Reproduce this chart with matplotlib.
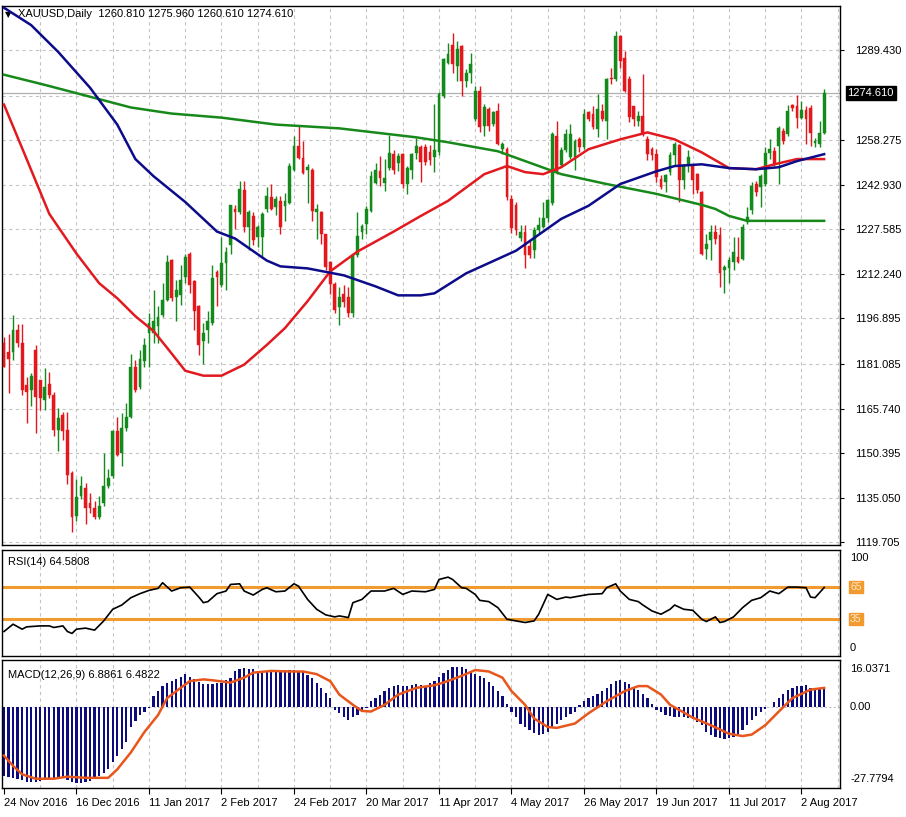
import numpy as np
import matplotlib.pyplot as plt
from matplotlib.transforms import blended_transform_factory

# ---- data (XAUUSD daily, 182 bars) ----
x_labels = ["24 Nov 2016", "16 Dec 2016", "11 Jan 2017", "2 Feb 2017", "24 Feb 2017",
            "20 Mar 2017", "11 Apr 2017", "4 May 2017", "26 May 2017", "19 Jun 2017",
            "11 Jul 2017", "2 Aug 2017"]

opens = [1188.2, 1185.3, 1185.3, 1192.9, 1188.2, 1173.9, 1172.2, 1185.9, 1175.6, 1168.7,
         1174.4, 1170.5, 1158.5, 1163.6, 1158.5, 1143.6, 1128.8, 1135.6, 1138.5, 1133.3,
         1131.6, 1128.2, 1133.3, 1139.0, 1142.5, 1157.9, 1150.5, 1159.0, 1163.0, 1180.2,
         1173.3, 1182.0, 1191.8, 1191.8, 1194.1, 1198.1, 1203.3, 1217.0, 1204.4, 1205.0,
         1211.3, 1219.2, 1209.9, 1201.0, 1189.0, 1193.0, 1195.3, 1213.0, 1208.4, 1215.8,
         1222.1, 1234.7, 1233.5, 1241.0, 1228.4, 1232.0, 1225.0, 1225.0, 1234.7, 1238.7,
         1235.2, 1237.4, 1235.7, 1236.8, 1248.2, 1256.2, 1252.2, 1248.0, 1248.2, 1233.4,
         1233.4, 1226.0, 1216.3, 1208.8, 1200.8, 1205.4, 1204.3, 1198.6, 1218.6, 1226.5,
         1229.4, 1234.0, 1243.7, 1247.7, 1243.7, 1248.8, 1253.4, 1250.5, 1253.4, 1243.1,
         1248.2, 1254.0, 1255.9, 1255.9, 1254.2, 1252.5, 1254.2, 1273.6, 1285.0, 1291.3,
         1283.9, 1290.7, 1278.8, 1281.6, 1265.6, 1275.3, 1263.3, 1269.1, 1263.9, 1268.5,
         1255.3, 1255.3, 1238.2, 1235.9, 1224.5, 1226.8, 1221.7, 1220.5, 1227.4, 1228.5,
         1231.4, 1236.5, 1259.9, 1249.6, 1254.8, 1252.5, 1252.5, 1258.8, 1255.9, 1267.9,
         1267.3, 1262.2, 1268.5, 1265.1, 1279.9, 1279.3, 1294.2, 1286.8, 1279.3, 1270.2,
         1265.1, 1266.8, 1258.8, 1255.3, 1253.6, 1245.1, 1243.9, 1247.4, 1253.1, 1256.5,
         1244.5, 1249.6, 1249.6, 1246.5, 1240.3, 1220.9, 1223.8, 1226.6, 1225.5, 1213.5,
         1214.1, 1216.4, 1218.1, 1217.5, 1230.1, 1234.1, 1243.2, 1242.1, 1243.2, 1254.0,
         1254.6, 1256.3, 1261.5, 1260.3, 1270.6, 1270.0, 1266.0, 1268.9, 1269.5, 1257.5,
         1256.9, 1260.81]
highs = [1190.4, 1191.6, 1197.9, 1195.0, 1195.0, 1176.7, 1177.9, 1187.6, 1175.6, 1179.6,
         1178.4, 1171.6, 1165.9, 1164.7, 1164.7, 1144.2, 1141.3, 1142.5, 1140.2, 1136.8,
         1133.9, 1135.6, 1150.5, 1144.8, 1158.5, 1163.0, 1164.2, 1167.6, 1184.7, 1182.4,
         1186.0, 1190.0, 1198.7, 1206.7, 1201.0, 1209.0, 1218.7, 1217.5, 1210.1, 1215.3,
         1219.2, 1219.8, 1210.1, 1201.5, 1195.3, 1199.3, 1215.3, 1213.5, 1225.0, 1221.5,
         1235.8, 1235.8, 1244.4, 1244.4, 1234.1, 1233.5, 1229.0, 1233.5, 1242.1, 1243.2,
         1239.2, 1239.1, 1240.2, 1250.5, 1259.7, 1263.1, 1258.0, 1250.0, 1248.8, 1236.3,
         1234.0, 1226.0, 1216.8, 1209.4, 1207.7, 1208.3, 1207.7, 1219.1, 1233.4, 1229.4,
         1235.7, 1247.7, 1250.5, 1252.8, 1251.7, 1260.2, 1255.1, 1254.0, 1254.0, 1249.4,
         1254.0, 1259.1, 1256.5, 1257.1, 1256.5, 1270.8, 1274.8, 1286.8, 1291.9, 1295.3,
         1292.5, 1291.3, 1282.8, 1288.5, 1277.0, 1277.0, 1270.8, 1269.6, 1268.5, 1271.3,
         1257.6, 1255.9, 1239.3, 1237.1, 1229.1, 1229.1, 1223.9, 1228.5, 1231.9, 1237.1,
         1238.2, 1261.1, 1265.1, 1255.9, 1262.2, 1263.9, 1258.8, 1259.3, 1269.1, 1268.5,
         1270.2, 1274.2, 1270.8, 1279.9, 1283.3, 1295.9, 1294.7, 1289.0, 1280.5, 1270.2,
         1268.5, 1281.0, 1259.9, 1255.9, 1255.3, 1246.2, 1246.8, 1254.2, 1257.6, 1257.1,
         1250.2, 1254.8, 1250.2, 1247.0, 1240.9, 1226.1, 1228.9, 1228.9, 1228.4, 1215.2,
         1218.1, 1224.9, 1224.9, 1229.5, 1235.2, 1243.8, 1244.3, 1246.6, 1255.8, 1258.6,
         1255.8, 1263.2, 1262.6, 1270.6, 1270.8, 1274.0, 1271.8, 1270.0, 1270.6, 1259.2,
         1264.9, 1275.96]
lows = [1180.2, 1171.0, 1182.4, 1187.0, 1170.5, 1160.7, 1166.5, 1157.3, 1165.3, 1165.3,
        1169.3, 1156.2, 1151.0, 1155.0, 1139.6, 1123.1, 1127.1, 1134.5, 1125.9, 1129.9,
        1127.6, 1127.6, 1132.2, 1138.5, 1141.9, 1149.3, 1145.9, 1157.9, 1162.5, 1171.6,
        1172.5, 1180.0, 1180.0, 1188.4, 1188.4, 1197.5, 1202.7, 1202.7, 1195.8, 1201.5,
        1209.0, 1205.5, 1193.0, 1184.4, 1181.0, 1188.4, 1194.7, 1201.0, 1207.8, 1206.7,
        1219.2, 1227.8, 1233.0, 1226.7, 1220.4, 1222.1, 1221.5, 1218.1, 1233.5, 1234.1,
        1232.4, 1226.0, 1230.5, 1236.3, 1247.7, 1251.7, 1246.5, 1236.8, 1230.5, 1224.3,
        1222.5, 1213.4, 1205.4, 1198.6, 1194.6, 1200.8, 1197.4, 1197.4, 1218.0, 1224.3,
        1226.0, 1233.4, 1243.1, 1242.5, 1240.8, 1248.2, 1246.5, 1247.7, 1242.0, 1239.7,
        1244.8, 1251.7, 1243.9, 1249.6, 1249.6, 1247.4, 1253.1, 1273.0, 1284.5, 1281.6,
        1278.8, 1273.6, 1276.5, 1278.2, 1265.1, 1261.1, 1259.9, 1261.6, 1263.3, 1256.5,
        1253.6, 1237.6, 1226.2, 1225.7, 1223.4, 1214.2, 1217.7, 1217.7, 1226.2, 1227.9,
        1230.2, 1235.9, 1246.8, 1249.1, 1254.2, 1251.9, 1247.9, 1254.2, 1255.3, 1265.1,
        1262.2, 1259.3, 1265.1, 1258.8, 1277.6, 1278.8, 1283.3, 1274.8, 1264.5, 1263.3,
        1263.3, 1259.9, 1251.4, 1251.4, 1243.9, 1241.6, 1240.5, 1246.2, 1249.6, 1237.1,
        1241.6, 1247.4, 1239.9, 1240.0, 1218.6, 1217.5, 1216.9, 1222.6, 1207.8, 1205.5,
        1208.9, 1213.5, 1215.8, 1216.9, 1229.5, 1232.9, 1239.2, 1235.2, 1242.6, 1251.8,
        1249.5, 1243.2, 1256.9, 1259.8, 1268.3, 1262.6, 1265.5, 1256.9, 1256.3, 1255.8,
        1255.8, 1260.61]
closes = [1180.2, 1183.0, 1192.7, 1188.2, 1172.2, 1171.6, 1177.0, 1169.9, 1169.3, 1173.3,
          1170.5, 1158.5, 1162.5, 1157.9, 1143.0, 1128.2, 1135.1, 1139.0, 1131.6, 1131.6,
          1128.2, 1132.2, 1139.0, 1141.9, 1157.9, 1149.9, 1159.0, 1163.0, 1180.2, 1172.2,
          1183.0, 1187.8, 1195.3, 1195.8, 1197.5, 1203.3, 1216.4, 1203.8, 1206.7, 1210.1,
          1218.1, 1208.4, 1199.3, 1187.8, 1191.8, 1195.8, 1210.7, 1211.3, 1215.8, 1219.8,
          1235.8, 1233.5, 1241.5, 1228.4, 1233.5, 1223.8, 1228.4, 1233.0, 1239.2, 1234.7,
          1238.1, 1228.3, 1237.4, 1249.4, 1256.2, 1252.2, 1247.1, 1249.0, 1234.0, 1234.5,
          1226.0, 1214.5, 1208.8, 1199.7, 1204.3, 1202.6, 1198.6, 1218.6, 1225.4, 1228.8,
          1234.5, 1246.0, 1248.2, 1245.4, 1245.4, 1254.0, 1248.2, 1252.8, 1243.1, 1248.8,
          1253.4, 1256.2, 1250.8, 1250.8, 1251.4, 1254.8, 1274.2, 1286.2, 1287.9, 1284.5,
          1289.6, 1278.8, 1281.6, 1284.5, 1275.3, 1262.8, 1269.6, 1263.3, 1268.1, 1257.1,
          1257.1, 1238.8, 1227.9, 1227.4, 1226.8, 1218.8, 1218.8, 1227.4, 1229.1, 1231.4,
          1237.6, 1260.5, 1247.4, 1254.8, 1260.5, 1260.5, 1258.2, 1255.9, 1267.3, 1265.6,
          1262.8, 1269.1, 1265.6, 1279.3, 1279.3, 1294.2, 1285.6, 1275.3, 1266.2, 1265.6,
          1266.8, 1260.5, 1253.6, 1253.1, 1245.6, 1242.2, 1246.2, 1253.1, 1257.1, 1244.5,
          1249.6, 1252.5, 1244.5, 1241.0, 1219.2, 1222.6, 1226.6, 1224.4, 1212.4, 1214.6,
          1216.9, 1219.8, 1216.4, 1228.4, 1231.8, 1242.6, 1240.3, 1246.1, 1254.0, 1255.2,
          1250.1, 1262.6, 1258.0, 1268.3, 1269.5, 1266.0, 1268.9, 1265.5, 1260.9, 1258.0,
          1260.9, 1274.61]

# moving averages (bar index, value)
ma_green_idx = [0, 9, 19, 28, 37, 48, 60, 74, 91, 98, 109, 123, 133, 144, 154, 157, 160, 164, 181]
ma_green_val = [1280.9, 1277.4, 1273.3, 1269.6, 1267.5, 1266.1, 1263.7, 1262.4, 1259.3, 1257.6,
                1254.5, 1246.6, 1243.2, 1239.8, 1236.0, 1234.6, 1232.2, 1230.5, 1230.5]
ma_blue_idx = [0, 6, 12, 19, 25, 29, 33, 40, 47, 51, 58, 61, 67, 75, 82, 87, 92, 95, 102, 113,
               123, 129, 136, 144, 148, 154, 160, 166, 171, 175, 181]
ma_blue_val = [1304.0, 1298.0, 1288.7, 1276.4, 1263.7, 1251.8, 1245.9, 1237.0, 1226.8, 1224.4,
               1216.8, 1214.8, 1214.1, 1211.7, 1207.9, 1204.8, 1204.8, 1205.5, 1212.4, 1220.2,
               1231.2, 1235.7, 1243.2, 1247.6, 1249.4, 1250.0, 1248.7, 1248.3, 1249.0, 1251.1,
               1253.5]
ma_red_idx = [0, 5, 10, 16, 21, 25, 29, 33, 36, 40, 44, 48, 53, 58, 62, 67, 72, 78, 86, 92,
              98, 106, 111, 115, 119, 123, 129, 136, 142, 148, 154, 160, 166, 170, 175, 181]
ma_red_val = [1270.6, 1251.8, 1232.9, 1219.2, 1209.0, 1203.8, 1197.6, 1192.5, 1186.7, 1178.8,
              1177.1, 1177.1, 1180.9, 1187.7, 1193.5, 1202.8, 1213.1, 1219.9, 1226.8, 1232.2,
              1237.4, 1246.6, 1249.4, 1247.3, 1246.6, 1249.0, 1255.2, 1258.6, 1261.0, 1258.6,
              1254.1, 1248.7, 1248.3, 1250.0, 1251.8, 1251.8]

rsi_idx = [0, 2, 4, 5, 8, 10, 11, 13, 14, 15, 16, 18, 20, 22, 24, 26, 28, 30, 32, 34, 35, 37,
           39, 41, 43, 44, 45, 47, 49, 50, 52, 53, 55, 57, 58, 60, 62, 64, 65, 67, 69, 71, 73,
           74, 76, 77, 79, 81, 84, 86, 88, 90, 93, 95, 96, 98, 99, 101, 102, 104, 105, 107, 109,
           111, 113, 115, 117, 118, 120, 122, 124, 125, 127, 129, 132, 133, 135, 136, 138, 140,
           141, 143, 145, 147, 148, 150, 152, 154, 155, 157, 158, 159, 161, 163, 165, 167, 169,
           171, 173, 175, 177, 178, 179, 181]
rsi_val = [23.1, 30.0, 25.3, 27.5, 28.4, 28.4, 26.9, 28.4, 23.1, 21.3, 25.3, 26.3, 24.4, 33.1,
           44.1, 48.1, 55.0, 58.8, 61.9, 63.8, 69.1, 61.3, 64.4, 65.0, 55.6, 50.3, 51.3, 58.8,
           61.3, 67.5, 68.1, 61.3, 57.5, 62.8, 64.4, 60.6, 61.3, 68.1, 65.9, 53.4, 44.1, 38.8,
           36.9, 37.8, 36.3, 50.3, 53.4, 61.3, 61.3, 63.8, 58.1, 61.3, 60.6, 62.8, 72.2, 74.4,
           72.2, 64.4, 63.8, 58.1, 52.5, 51.3, 45.6, 34.7, 33.1, 31.6, 33.1, 39.4, 58.1, 53.4,
           55.6, 55.0, 56.6, 58.1, 58.8, 64.4, 68.1, 61.3, 53.4, 51.3, 48.1, 42.5, 39.4, 44.1,
           48.1, 44.1, 43.1, 34.7, 32.5, 36.9, 31.6, 32.5, 36.9, 45.6, 52.5, 55.0, 61.3, 58.8,
           65.0, 65.0, 64.4, 55.6, 55.0, 64.58]

macd_hist = [-23.7, -24.0, -24.3, -24.7, -25.1, -25.8, -25.8, -25.8, -25.5, -25.1,
             -24.7, -24.3, -24.3, -24.3, -25.0, -25.8, -25.9, -26.0, -25.7, -25.4,
             -24.5, -23.7, -22.5, -21.4, -19.0, -16.7, -14.4, -12.1, -6.9, -4.8,
             -2.8, -1.6, -0.5, 3.6, 5.3, 7.1, 8.0, 8.8, 9.5, 10.2,
             11.2, 10.3, 9.4, 8.5, 7.7, 7.7, 7.7, 8.0, 8.3, 9.1,
             10.0, 12.3, 12.8, 13.3, 13.1, 12.9, 12.3, 11.7, 12.3, 12.3,
             12.3, 12.4, 12.6, 12.6, 12.6, 12.3, 12.1, 11.0, 10.0, 8.2,
             6.5, 4.7, 3.0, -1.0, -2.2, -3.4, -4.5, -3.6, -2.8, -1.6,
             -0.5, 1.9, 3.0, 4.2, 5.3, 6.5, 7.0, 7.4, 7.2, 7.1,
             7.4, 7.7, 7.4, 7.1, 8.0, 8.8, 10.2, 11.7, 12.6, 13.5,
             13.6, 13.7, 12.9, 12.0, 11.2, 10.6, 10.0, 8.5, 7.1, 5.3,
             3.6, 1.0, -1.6, -3.6, -5.7, -6.9, -8.0, -8.9, -9.8, -9.2,
             -8.6, -7.2, -5.7, -4.5, -3.4, -2.5, -1.6, 0.7, 1.9, 3.0,
             3.7, 4.4, 5.5, 6.5, 7.7, 8.8, 9.1, 8.4, 7.7, 6.8,
             5.9, 4.5, 3.0, 1.0, -1.0, -1.9, -2.8, -3.1, -3.4, -3.4,
             -3.4, -3.7, -4.0, -5.2, -6.3, -8.6, -9.5, -10.3, -10.6, -10.9,
             -10.6, -10.3, -9.2, -8.0, -6.3, -4.5, -3.0, -1.6, -0.8, 0.1,
             1.6, 3.0, 4.5, 5.9, 6.5, 7.1, 7.3, 7.4, 6.5, 6.5,
             6.5, 6.8861]
signal_idx = [0, 2, 4, 7, 11, 14, 18, 23, 25, 28, 31, 34, 36, 39, 41, 44, 46, 50, 53, 55, 59,
              63, 66, 69, 72, 74, 77, 79, 81, 84, 87, 91, 95, 97, 101, 104, 107, 110, 112, 115,
              117, 120, 122, 126, 129, 133, 137, 140, 142, 145, 147, 150, 152, 156, 160, 163,
              165, 168, 171, 174, 178, 181]
signal_val = [-16.7, -20.2, -23.1, -24.6, -24.6, -23.9, -24.3, -24.3, -21.4, -15.6, -8.6, -2.8,
              3.0, 6.5, 8.8, 9.4, 9.1, 8.3, 10.0, 11.7, 12.3, 12.1, 12.1, 11.2, 8.8, 4.2, 0.7,
              -1.4, -1.6, 0.7, 4.2, 6.5, 7.4, 8.3, 10.6, 12.6, 12.1, 10.0, 5.4, 0.7, -4.0, -6.9,
              -7.2, -5.7, -2.2, 1.9, 5.4, 7.1, 7.1, 4.2, 0.7, -1.9, -3.7, -6.3, -9.2, -10.0,
              -9.5, -6.3, -1.6, 3.0, 5.9, 6.4822]

price_ticks = [1289.430, 1258.275, 1242.930, 1227.585, 1212.240, 1196.895, 1181.085,
               1165.740, 1150.395, 1135.050, 1119.705]

# ---- figure ----
plt.rcParams['font.family'] = ['Liberation Sans', 'DejaVu Sans']
fig = plt.figure(figsize=(9.06, 8.17), dpi=100)
W, H = 906.0, 817.0

def box(x0, y0, x1, y1):
    return [x0 / W, 1 - y1 / H, (x1 - x0) / W, (y1 - y0) / H]

ax = fig.add_axes(box(2, 6, 840, 545))
ax_rsi = fig.add_axes(box(2, 550, 840, 656))
ax_macd = fig.add_axes(box(2, 660, 840, 788))

n = len(closes)
x = np.arange(n)
o = np.array(opens); h = np.array(highs); l = np.array(lows); c = np.array(closes)
bull = c >= o
col = np.where(bull, '#138a1b', '#e3171c')

grid_kw = dict(color='#c4c4c4', lw=0.8, ls=(0, (3, 3)), zorder=0)
xmin, xmax = -0.44, 184.5
for a in (ax, ax_rsi, ax_macd):
    a.set_xlim(xmin, xmax)
    for gx in range(8, 185, 8):
        a.axvline(gx, **grid_kw)
    for s in a.spines.values():
        s.set_color('black')
        s.set_linewidth(1.0)

# main panel
for gy in price_ticks + [1273.62]:
    ax.axhline(gy, **grid_kw)
ax.axhline(1274.61, color='#b0b0b0', lw=0.9, zorder=1)
ax.vlines(x, np.minimum(l, np.minimum(o, c)), np.maximum(h, np.maximum(o, c)),
          colors=col, lw=1.0, zorder=2)
ax.bar(x, np.maximum(np.abs(c - o), 0.35), bottom=np.minimum(o, c), width=0.62,
       color=col, edgecolor=col, lw=0.3, zorder=3)
ax.plot(ma_green_idx, ma_green_val, color='#17891a', lw=1.8, zorder=4)
ax.plot(ma_red_idx, ma_red_val, color='#e21a1f', lw=1.8, zorder=4)
ax.plot(ma_blue_idx, ma_blue_val, color='#0c0c8a', lw=1.8, zorder=4)
ax.set_ylim(1118.7, 1304.6)
ax.yaxis.tick_right()
ax.set_yticks(price_ticks)
ax.set_yticklabels(['%.3f' % v for v in price_ticks])
ax.tick_params(axis='y', length=3, width=0.8, labelsize=8, pad=8)
ax.set_xticks([])
tr = blended_transform_factory(ax.transAxes, ax.transData)
ax.text(1.009, 1274.61, '1274.610', transform=tr, color='white', fontsize=8,
        va='center', ha='left',
        bbox=dict(boxstyle='square,pad=0.15', fc='black', ec='black'))
ax.text(0.004, 0.993, '\u25bc', transform=ax.transAxes, fontsize=6, va='top',
        ha='left', family='DejaVu Sans')
ax.text(0.019, 0.995, 'XAUUSD,Daily  1260.810 1275.960 1260.610 1274.610',
        transform=ax.transAxes, fontsize=8, va='top', ha='left')

# RSI panel
ax_rsi.set_ylim(0, 100)
ax_rsi.plot(rsi_idx, rsi_val, color='black', lw=1.2, zorder=3)
for lv in (65, 35):
    ax_rsi.axhline(lv, color='#f29a2e', lw=2.2, zorder=2)
ax_rsi.set_xticks([])
ax_rsi.set_yticks([])
ax_rsi.text(0.007, 0.93, 'RSI(14) 64.5808', transform=ax_rsi.transAxes, fontsize=8,
            va='top', ha='left')
tr_r = blended_transform_factory(ax_rsi.transAxes, ax_rsi.transData)
ax_rsi.text(1.012, 92, '100', transform=tr_r, fontsize=8, va='center', ha='left')
ax_rsi.text(1.012, 8, '0', transform=tr_r, fontsize=8, va='center', ha='left')
for lv in (65, 35):
    ax_rsi.text(1.012, lv, str(lv), transform=tr_r, fontsize=7.5, va='center', ha='left',
                color='#fde7c8',
                bbox=dict(boxstyle='square,pad=0.12', fc='#f29a2e', ec='#f29a2e'))

# MACD panel
ax_macd.set_ylim(-27.7794, 16.0371)
ax_macd.axhline(0, color='#c4c4c4', lw=0.8, ls=(0, (2, 2)), zorder=0)
ax_macd.bar(x, macd_hist, width=0.5, color='#0c0c7e', zorder=2)
ax_macd.plot(signal_idx, signal_val, color='#e8561c', lw=1.8, zorder=3)
ax_macd.set_yticks([])
ax_macd.text(0.007, 0.92, 'MACD(12,26,9) 6.8861 6.4822', transform=ax_macd.transAxes,
             fontsize=8, va='top', ha='left')
tr_m = blended_transform_factory(ax_macd.transAxes, ax_macd.transData)
ax_macd.text(1.012, 13.0, '16.0371', transform=tr_m, fontsize=8, va='center', ha='left')
ax_macd.text(1.012, 0.0, '0.00', transform=tr_m, fontsize=8, va='center', ha='left')
ax_macd.text(1.012, -24.8, '-27.7794', transform=tr_m, fontsize=8, va='center', ha='left')
ax_macd.set_xticks(np.arange(0, 177, 16))
ax_macd.set_xticklabels(x_labels, ha='left')
ax_macd.tick_params(axis='x', length=4, width=0.8, labelsize=8, pad=3)

fig.savefig('out.png', dpi=100, facecolor='white')
